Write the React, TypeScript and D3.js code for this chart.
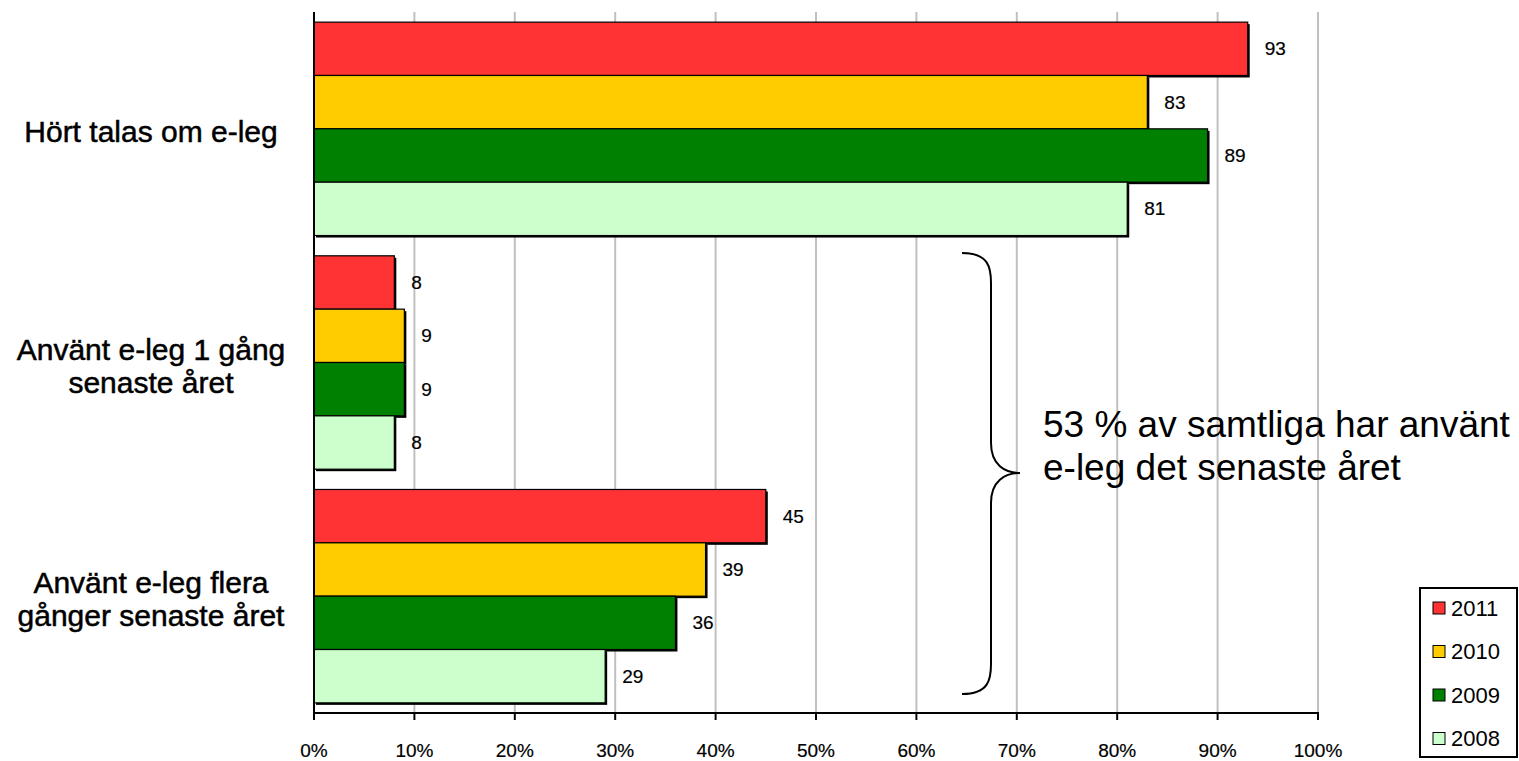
import React from "react";
import * as d3 from "d3";

const categories = ["Hört talas om e-leg", "Använt e-leg 1 gång senaste året", "Använt e-leg flera gånger senaste året"];
const categoryLines = [["Hört talas om e-leg"], ["Använt e-leg 1 gång", "senaste året"], ["Använt e-leg flera", "gånger senaste året"]];
const years = ["2011", "2010", "2009", "2008"];
const values2011 = [93, 8, 45];
const values2010 = [83, 9, 39];
const values2009 = [89, 9, 36];
const values2008 = [81, 8, 29];
const seriesColors = ["#FF3333", "#FFCC00", "#008000", "#CCFFCC"];
const xTicks = [0, 10, 20, 30, 40, 50, 60, 70, 80, 90, 100];
const annotationLines = ["53 % av samtliga har använt", "e-leg det senaste året"];

const W = 1519;
const H = 761;
const FONT = "'Liberation Sans', Arial, sans-serif";

export default function App() {
  const series = [values2011, values2010, values2009, values2008];
  const x = d3.scaleLinear().domain([0, 100]).range([314, 1318]);
  const y = d3.scaleBand<string>().domain(categories).range([12, 713]).padding(0);
  const inner = d3.scaleBand<string>().domain(years).range([0, y.bandwidth()]).paddingInner(0).paddingOuter(0.19);

  const bracePath = (() => {
    const x0 = 962, xv = 991, xt = 1020, y0 = 253, ym = 473, y1 = 694;
    const p = d3.path();
    p.moveTo(x0, y0);
    p.bezierCurveTo(xv - 2, y0, xv, y0 + 15, xv, y0 + 30);
    p.lineTo(xv, ym - 30);
    p.bezierCurveTo(xv, ym - 8, xt - 15, ym, xt, ym);
    p.bezierCurveTo(xt - 15, ym, xv, ym + 8, xv, ym + 30);
    p.lineTo(xv, y1 - 30);
    p.bezierCurveTo(xv, y1 - 15, xv - 2, y1, x0, y1);
    return p.toString();
  })();

  return (
    <svg width={W} height={H} style={{ position: "absolute", left: 0, top: 0, background: "#fff" }} fontFamily={FONT}>
      {/* gridlines */}
      {xTicks.filter((t) => t > 0).map((t) => (
        <line key={"g" + t} x1={x(t)} x2={x(t)} y1={12} y2={713} stroke="#C0C0C0" strokeWidth={2} />
      ))}
      {/* bars */}
      {categories.map((c, ci) =>
        years.map((yr, si) => {
          const v = series[si][ci];
          const by = (y(c) as number) + (inner(yr) as number);
          const bh = inner.bandwidth();
          return (
            <g key={c + yr}>
              <rect x={x(0) + 2} y={by + 2} width={x(v) - x(0)} height={bh} fill="#000" />
              <rect x={x(0)} y={by} width={x(v) - x(0)} height={bh} fill={seriesColors[si]} stroke="#000" strokeWidth={1.2} />
              <text x={x(v) + 17} y={by + bh / 2} dominantBaseline="central" fontSize={19} fill="#000" stroke="#000" strokeWidth={0.2}>{v}</text>
            </g>
          );
        })
      )}
      {/* axes */}
      <line x1={314} x2={314} y1={12} y2={714} stroke="#000" strokeWidth={2} />
      <line x1={313} x2={1319} y1={713} y2={713} stroke="#000" strokeWidth={2} />
      {xTicks.map((t) => (
        <g key={"t" + t}>
          <line x1={x(t)} x2={x(t)} y1={713} y2={720} stroke="#000" strokeWidth={2} />
          <text x={x(t)} y={750} textAnchor="middle" dominantBaseline="central" fontSize={19} fill="#000" stroke="#000" strokeWidth={0.2}>{t + "%"}</text>
        </g>
      ))}
      {/* category labels */}
      {categories.map((c, ci) => {
        const lines = categoryLines[ci];
        const cy = (y(c) as number) + y.bandwidth() / 2 + 3;
        const lh = 33;
        return lines.map((ln, li) => (
          <text key={c + li} x={151} y={cy + (li - (lines.length - 1) / 2) * lh} textAnchor="middle" dominantBaseline="central" fontSize={30} fill="#000" stroke="#000" strokeWidth={0.5}>{ln}</text>
        ));
      })}
      {/* brace annotation */}
      <path d={bracePath} fill="none" stroke="#000" strokeWidth={2} />
      {annotationLines.map((ln, i) => (
        <text key={"a" + i} x={1043} y={437 + i * 43} fontSize={37} fill="#000">{ln}</text>
      ))}
      {/* legend */}
      <rect x={1420} y={588} width={97} height={169} fill="#fff" stroke="#000" strokeWidth={2} />
      {years.map((yr, i) => {
        const ly = 608 + i * 43.5;
        return (
          <g key={"l" + yr}>
            <rect x={1433} y={ly - 6} width={12} height={12} fill={seriesColors[i]} stroke="#000" strokeWidth={1} />
            <text x={1451} y={ly} dominantBaseline="central" fontSize={22} fill="#000">{yr}</text>
          </g>
        );
      })}
    </svg>
  );
}
